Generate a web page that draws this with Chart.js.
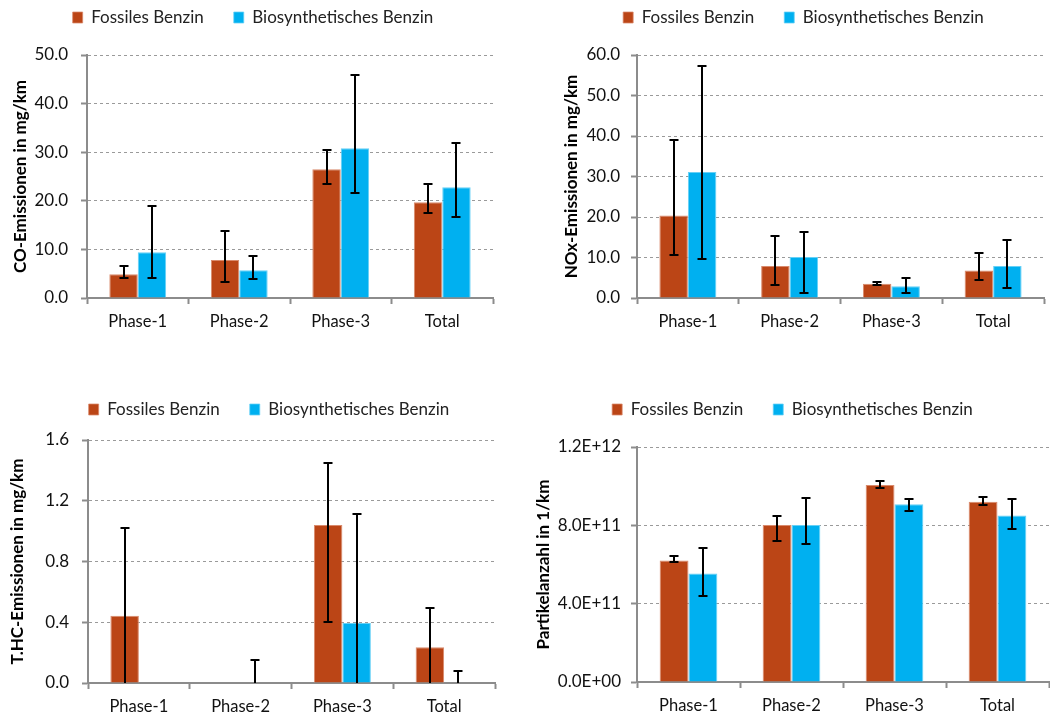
<!DOCTYPE html>
<html lang="de">

<head>
    <meta charset="UTF-8">
    <title>Emissionen: Fossiles vs. Biosynthetisches Benzin</title>
    <style>
        body {
            margin: 0;
            background: #fff;
            width: 1050px;
            height: 718px;
            overflow: hidden;
            position: relative;
        }

        canvas {
            position: absolute;
        }
    </style>
</head>

<body>
    <canvas id="coChart"></canvas>
    <canvas id="noxChart"></canvas>
    <canvas id="thcChart"></canvas>
    <canvas id="pnChart"></canvas>
    <script src="https://cdn.jsdelivr.net/npm/chart.js@4/dist/chart.umd.min.js"></script>
    <script>
        const categories = ['Phase-1', 'Phase-2', 'Phase-3', 'Total'];
        const seriesNames = ['Fossiles Benzin', 'Biosynthetisches Benzin'];

        // CO (mg/km)
        const coFossil = [4.9, 7.8, 26.5, 19.7];
        const coFossilLo = [4.1, 3.3, 23.5, 17.5];
        const coFossilHi = [6.6, 13.7, 30.4, 23.5];
        const coBio = [9.4, 5.7, 30.8, 22.8];
        const coBioLo = [4.1, 3.9, 21.7, 16.6];
        const coBioHi = [19.0, 8.7, 45.8, 31.8];
        const coTicks = [0, 10, 20, 30, 40, 50];

        // NOx (mg/km)
        const noxFossil = [20.4, 7.9, 3.5, 6.8];
        const noxFossilLo = [10.7, 3.3, 3.3, 4.5];
        const noxFossilHi = [39.0, 15.2, 4.0, 11.0];
        const noxBio = [31.1, 10.1, 2.9, 7.9];
        const noxBioLo = [9.6, 1.2, 1.2, 2.4];
        const noxBioHi = [57.3, 16.3, 5.0, 14.3];
        const noxTicks = [0, 10, 20, 30, 40, 50, 60];

        // T.HC (mg/km) - lower ends below zero are cut at the axis
        const thcFossil = [0.443, 0, 1.04, 0.235];
        const thcFossilLo = [-0.13, null, 0.40, -0.02];
        const thcFossilHi = [1.02, null, 1.45, 0.494];
        const thcBio = [0, 0, 0.395, 0];
        const thcBioLo = [null, -0.15, -0.32, -0.08];
        const thcBioHi = [null, 0.149, 1.11, 0.079];
        const thcTicks = [0, 0.4, 0.8, 1.2, 1.6];

        // Partikelanzahl (1/km)
        const pnFossil = [6.20e11, 8.02e11, 10.06e11, 9.21e11];
        const pnFossilLo = [6.14e11, 7.22e11, 9.91e11, 9.03e11];
        const pnFossilHi = [6.41e11, 8.46e11, 10.27e11, 9.45e11];
        const pnBio = [5.54e11, 8.02e11, 9.08e11, 8.50e11];
        const pnBioLo = [4.40e11, 7.07e11, 8.75e11, 7.80e11];
        const pnBioHi = [6.85e11, 9.42e11, 9.37e11, 9.33e11];
        const pnTicks = [0, 4e11, 8e11, 12e11];

        const RED = '#BB4516';
        const BLUE = '#00B0F0';

        Chart.defaults.font.family = 'Lato, sans-serif';
        Chart.defaults.color = '#111';

        const fixed1 = v => v.toFixed(1);
        const sci = v => {
            const [m, e] = v.toExponential(1).split('e');
            const sign = e[0] === '-' ? '-' : '+';
            return m + 'E' + sign + e.replace(/[+-]/, '').padStart(2, '0');
        };

        // draws the error bars on top of the bars
        const errorBars = {
            id: 'errorBars',
            afterDatasetsDraw(chart) {
                const { ctx, chartArea: a } = chart;
                const y = chart.scales.y;
                ctx.save();
                ctx.beginPath();
                ctx.rect(a.left, a.top - 10, a.right - a.left, a.bottom - a.top + 10);
                ctx.clip();
                ctx.strokeStyle = '#000';
                ctx.lineWidth = 2;
                chart.data.datasets.forEach((ds, i) => {
                    chart.getDatasetMeta(i).data.forEach((bar, j) => {
                        const lo = ds.errLo[j], hi = ds.errHi[j];
                        if (lo == null || hi == null) return;
                        const x = Math.round(bar.x);
                        const yl = Math.round(y.getPixelForValue(lo));
                        const yh = Math.round(y.getPixelForValue(hi));
                        ctx.beginPath();
                        ctx.moveTo(x, yl);
                        ctx.lineTo(x, yh);
                        if (lo >= y.min) {
                            ctx.moveTo(x - 4.5, yl);
                            ctx.lineTo(x + 4.5, yl);
                        }
                        ctx.moveTo(x - 4.5, yh);
                        ctx.lineTo(x + 4.5, yh);
                        ctx.stroke();
                    });
                });
                ctx.restore();
            }
        };

        function makeChart(id, g, d) {
            const canvas = document.getElementById(id);
            canvas.width = g.w;
            canvas.height = g.h;
            canvas.style.left = g.x + 'px';
            canvas.style.top = g.y + 'px';

            return new Chart(canvas, {
                type: 'bar',
                data: {
                    labels: categories,
                    datasets: [{
                        label: seriesNames[0],
                        data: d.fossil,
                        errLo: d.fossilLo,
                        errHi: d.fossilHi,
                        backgroundColor: RED,
                        borderColor: '#D98A6C',
                        borderWidth: { top: 1, left: 1, right: 1, bottom: 0 },
                        categoryPercentage: 0.56,
                        barPercentage: 1.0
                    }, {
                        label: seriesNames[1],
                        data: d.bio,
                        errLo: d.bioLo,
                        errHi: d.bioHi,
                        backgroundColor: BLUE,
                        borderColor: '#66D0F6',
                        borderWidth: { top: 1, left: 1, right: 1, bottom: 0 },
                        categoryPercentage: 0.56,
                        barPercentage: 1.0
                    }]
                },
                options: {
                    responsive: false,
                    animation: false,
                    devicePixelRatio: 1,
                    layout: { padding: 0, autoPadding: false },
                    plugins: {
                        legend: {
                            position: 'top',
                            weight: 3000,
                            labels: {
                                boxWidth: 10,
                                boxHeight: 11,
                                padding: 30,
                                color: '#222',
                                font: { size: 17 }
                            }
                        },
                        // empty title used as gap between legend and plot
                        title: {
                            display: true,
                            text: '',
                            font: { size: 1, lineHeight: 1 },
                            padding: { top: g.gap - 1, bottom: 0 }
                        },
                        tooltip: { enabled: false }
                    },
                    scales: {
                        x: {
                            grid: {
                                offset: true,
                                drawOnChartArea: false,
                                tickLength: 6,
                                tickWidth: 2,
                                tickColor: '#8c8c8c'
                            },
                            border: { color: '#8c8c8c', width: 2 },
                            ticks: { padding: 8, font: { size: 16.5 }, color: '#111' },
                            afterFit: s => {
                                s.height = g.xH;
                                s.paddingRight = g.padR;
                                s.paddingLeft = 0;
                            }
                        },
                        y: {
                            min: d.ticks[0],
                            max: d.ticks[d.ticks.length - 1],
                            afterBuildTicks: s => {
                                s.ticks = d.ticks.map(v => ({ value: v }));
                            },
                            grid: {
                                color: '#9a9a9a',
                                lineWidth: 1,
                                tickLength: 6,
                                tickWidth: 2,
                                tickColor: '#8c8c8c',
                                tickBorderDash: []
                            },
                            border: { color: '#8c8c8c', width: 2, dash: [3, 3] },
                            ticks: {
                                padding: g.tickPad,
                                font: { size: 17 },
                                color: '#111',
                                callback: v => d.fmt(v)
                            },
                            title: {
                                display: true,
                                text: d.title,
                                color: '#000',
                                font: { size: 17, weight: 'bold' },
                                padding: { top: g.titlePad, bottom: 0 }
                            },
                            afterFit: s => {
                                s.width = g.yW;
                            }
                        }
                    }
                },
                plugins: [errorBars]
            });
        }

        makeChart('coChart',
            { x: 0, y: -21, w: 506, h: 371, yW: 87, xH: 52, padR: 13, gap: 19, tickPad: 13, titlePad: 10 },
            { fossil: coFossil, fossilLo: coFossilLo, fossilHi: coFossilHi, bio: coBio, bioLo: coBioLo, bioHi: coBioHi,
              ticks: coTicks, fmt: fixed1, title: 'CO-Emissionen in mg/km' });

        makeChart('noxChart',
            { x: 556, y: -21, w: 495, h: 371, yW: 81, xH: 52, padR: 7, gap: 19, tickPad: 11, titlePad: 5 },
            { fossil: noxFossil, fossilLo: noxFossilLo, fossilHi: noxFossilHi, bio: noxBio, bioLo: noxBioLo, bioHi: noxBioHi,
              ticks: noxTicks, fmt: fixed1, title: 'NOx-Emissionen in mg/km' });

        makeChart('thcChart',
            { x: 0, y: 371, w: 538, h: 351, yW: 88, xH: 39, padR: 43, gap: 12, tickPad: 13, titlePad: 7 },
            { fossil: thcFossil, fossilLo: thcFossilLo, fossilHi: thcFossilHi, bio: thcBio, bioLo: thcBioLo, bioHi: thcBioHi,
              ticks: thcTicks, fmt: fixed1, title: 'T.HC-Emissionen in mg/km' });

        makeChart('pnChart',
            { x: 530, y: 371, w: 525, h: 351, yW: 107, xH: 40, padR: 6, gap: 19, tickPad: 10, titlePad: 3 },
            { fossil: pnFossil, fossilLo: pnFossilLo, fossilHi: pnFossilHi, bio: pnBio, bioLo: pnBioLo, bioHi: pnBioHi,
              ticks: pnTicks, fmt: sci, title: 'Partikelanzahl in 1/km' });
    </script>
</body>

</html>
